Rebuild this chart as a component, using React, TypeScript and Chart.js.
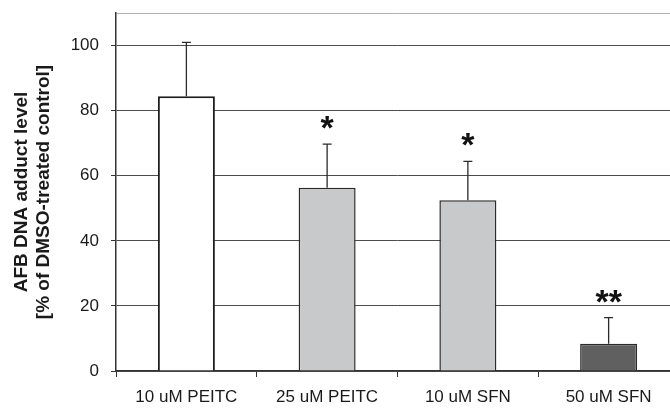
import React, { useEffect, useRef } from "react";
import { Chart, registerables } from "chart.js";

Chart.register(...registerables);

const categories = ["10 uM PEITC", "25 uM PEITC", "10 uM SFN", "50 uM SFN"];
const values = [84.4, 56.3, 52.5, 8.4];
const errors = [16.6, 13.4, 11.9, 8.0];
const significance = ["", "*", "*", "**"];
const fillColors = ["#ffffff", "#c8c9cb", "#c8c9cb", "#606060"];
const yTitle = ["AFB DNA adduct level", "[% of DMSO-treated control]"];
const yMin = 0;
const yMax = 110;
const yStep = 20;

const FONT = "'Liberation Sans', Arial, Helvetica, sans-serif";

const errorBarPlugin = {
  id: "errorBars",
  afterDatasetsDraw(chart: any) {
    const { ctx, scales } = chart;
    const y = scales.y;
    const meta = chart.getDatasetMeta(0);
    ctx.save();
    meta.data.forEach((bar: any, i: number) => {
      const x = bar.x;
      const yBar = y.getPixelForValue(values[i]);
      const yErr = y.getPixelForValue(values[i] + errors[i]);
      ctx.strokeStyle = "#2b2b2b";
      ctx.lineWidth = 1.3;
      ctx.beginPath();
      ctx.moveTo(x, yBar);
      ctx.lineTo(x, yErr);
      ctx.moveTo(x - 4.5, yErr);
      ctx.lineTo(x + 4.5, yErr);
      ctx.stroke();
      if (significance[i]) {
        ctx.fillStyle = "#111";
        ctx.font = `bold 34px ${FONT}`;
        ctx.textAlign = "center";
        ctx.textBaseline = "alphabetic";
        ctx.fillText(significance[i], x, yErr - 5);
      }
    });
    ctx.restore();
  },
};

export default function App() {
  const ref = useRef<HTMLCanvasElement | null>(null);
  useEffect(() => {
    if (!ref.current) return;
    const chart = new Chart(ref.current, {
      type: "bar",
      data: {
        labels: categories,
        datasets: [
          {
            data: values,
            backgroundColor: fillColors,
            borderColor: ["#1e1e1e", "#2a2a2a", "#2a2a2a", "#2a2a2a"],
            borderWidth: [2, 1.5, 1.5, 1.5],
            barPercentage: 0.405,
            categoryPercentage: 1,
          },
        ],
      },
      options: {
        responsive: false,
        animation: false,
        devicePixelRatio: 1,
        layout: { padding: { top: 13, right: 12, left: 0, bottom: 0 } },
        plugins: {
          legend: { display: false },
          tooltip: { enabled: false },
        },
        scales: {
          x: {
            grid: {
              display: true,
              drawOnChartArea: false,
              drawTicks: true,
              tickLength: 6,
              color: "#333",
              offset: true,
            },
            border: { display: true, color: "#333", width: 1.2 },
            ticks: {
              color: "#1a1a1a",
              font: { family: FONT, size: 17 },
              padding: 10,
              maxRotation: 0,
              autoSkip: false,
            },
            afterFit: (scale: any) => {
              scale.height = 37;
              scale.paddingLeft = 0;
              scale.paddingRight = 0;
            },
          },
          y: {
            min: yMin,
            max: yMax,
            ticks: {
              stepSize: yStep,
              color: "#1a1a1a",
              font: { family: FONT, size: 17 },
              padding: 12,
              callback: (v: any) => (v > 100 ? "" : String(v)),
            },
            grid: {
              color: (c: any) =>
                c.tick && c.tick.value > 100 ? "#b0b0b0" : "#4d4d4d",
              tickColor: (c: any) =>
                c.tick && c.tick.value > 100 ? "rgba(0,0,0,0)" : "#333",
              lineWidth: 1,
              tickLength: 5,
            },
            border: { display: true, color: "#333", width: 1.5 },
            title: {
              display: true,
              text: yTitle,
              color: "#1a1a1a",
              font: { family: FONT, size: 19, weight: "bold" },
              padding: { top: 10, bottom: 0 },
            },
            afterFit: (scale: any) => {
              scale.width = 116;
              scale.paddingTop = 0;
              scale.paddingBottom = 0;
            },
          },
        },
      },
      plugins: [errorBarPlugin],
    });
    return () => chart.destroy();
  }, []);

  return (
    <div
      style={{
        position: "fixed",
        left: 0,
        top: 0,
        width: 670,
        height: 408,
        overflow: "hidden",
        background: "#fff",
      }}
    >
      <canvas ref={ref} width={691} height={408} style={{ display: "block" }} />
    </div>
  );
}
